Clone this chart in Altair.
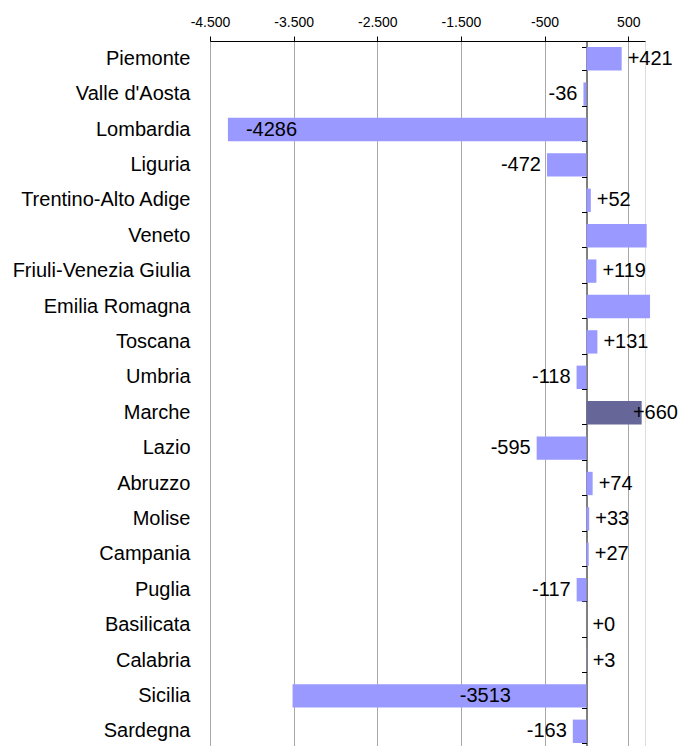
import altair as alt
import pandas as pd

regions = ["Piemonte", "Valle d'Aosta", "Lombardia", "Liguria", "Trentino-Alto Adige",
           "Veneto", "Friuli-Venezia Giulia", "Emilia Romagna", "Toscana", "Umbria",
           "Marche", "Lazio", "Abruzzo", "Molise", "Campania", "Puglia", "Basilicata",
           "Calabria", "Sicilia", "Sardegna"]
values = [421, -36, -4286, -472, 52, 720, 119, 760, 131, -118,
          660, -595, 74, 33, 27, -117, 0, 3, -3513, -163]
labels = ["+421", "-36", "-4286", "-472", "+52", "", "+119", "", "+131", "-118",
          "+660", "-595", "+74", "+33", "+27", "-117", "+0", "+3", "-3513", "-163"]
# where a label sits away from its bar end (data units, label centre); None = default
label_anchor = [None, None, -3765, None, None, None, None, None, None, None,
                825, None, None, None, None, None, None, None, -1208, None]
highlight = ["Marche"]
tick_values = [-4500, -3500, -2500, -1500, -500, 500]

df = pd.DataFrame({"region": regions, "value": values, "label": labels,
                   "anchor": label_anchor})
df["hl"] = df["region"].isin(highlight)

FONT = "Liberation Sans"
y_scale = alt.Scale(domain=regions, paddingInner=0.34, paddingOuter=0.17)
x_scale = alt.Scale(domain=[-4500, 700], nice=False, zero=False)

bars = alt.Chart(df).mark_bar(clip=False).encode(
    x=alt.X("value:Q", scale=x_scale, title=None,
            axis=alt.Axis(orient="top", values=tick_values, labelFont=FONT,
                          labelFontSize=14, labelColor="black", labelPadding=7,
                          labelFlush=False, labelOverlap=False,
                          tickSize=5, tickColor="black", domainColor="black",
                          gridColor="#a8a8a8", gridWidth=1, grid=True,
                          labelExpr="replace(replace(format(datum.value, ','), /,/g, '.'), '\u2212', '-')")),
    x2=alt.datum(0),
    y=alt.Y("region:N", sort=regions, title=None, scale=y_scale,
            axis=alt.Axis(labelFont=FONT, labelFontSize=20, labelColor="black",
                          labelPadding=20, ticks=False, domain=False, grid=False)),
    color=alt.condition("datum.hl", alt.value("#666699"), alt.value("#9999ff")),
)

zero_axis = alt.Chart(df).mark_rule(opacity=0).encode(
    x=alt.X(datum=0, type="quantitative", scale=x_scale),
    y=alt.Y("region:N", sort=regions, title=None, scale=y_scale,
            axis=alt.Axis(orient="left", offset=-376.5, labels=False, ticks=True,
                          tickBand="extent", tickSize=5, tickColor="black",
                          domain=True, domainColor="black", grid=False)),
)

base_text = alt.Chart(df).encode(
    y=alt.Y("region:N", sort=regions, scale=y_scale, axis=None),
    text="label:N",
)

pos_text = base_text.transform_filter(
    "datum.anchor == null && indexof(datum.label, '+') == 0"
).mark_text(align="left", baseline="middle", dx=6, font=FONT, fontSize=20,
            color="black").encode(x=alt.X("value:Q", scale=x_scale))

neg_text = base_text.transform_filter(
    "datum.anchor == null && indexof(datum.label, '-') == 0"
).mark_text(align="right", baseline="middle", dx=-6, font=FONT, fontSize=20,
            color="black").encode(x=alt.X("value:Q", scale=x_scale))

special_text = base_text.transform_filter(
    "datum.anchor != null"
).mark_text(align="center", baseline="middle", font=FONT, fontSize=20,
            color="black").encode(x=alt.X("anchor:Q", scale=x_scale))

chart = alt.layer(bars, zero_axis, pos_text, neg_text, special_text).resolve_axis(
    y="independent"
).properties(
    width=435, height=708,
    autosize=alt.AutoSizeParams(type="none"),
    padding={"left": 202, "top": 33, "right": 33, "bottom": 0},
).configure_view(strokeWidth=0).configure(background="white")

chart.save("out.html", embed_options={"renderer": "svg", "actions": False})
